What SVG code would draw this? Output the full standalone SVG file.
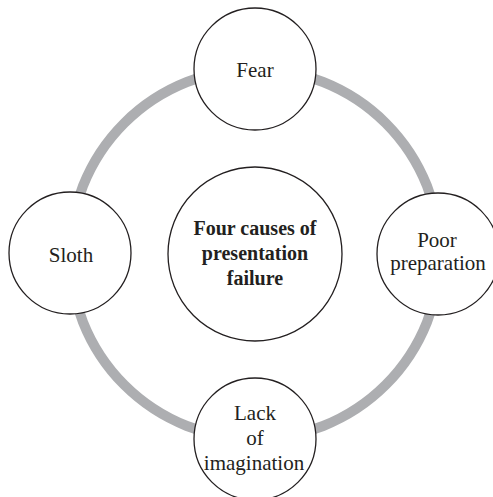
<svg xmlns="http://www.w3.org/2000/svg" width="493" height="497" viewBox="0 0 493 497">
  <style>
    .ring { fill: none; stroke: #adaeb1; stroke-width: 10; }
    .node { fill: #ffffff; stroke: #231f20; stroke-width: 1.3; }
    .lbl { font-family: "Liberation Serif", "Times New Roman", serif; font-size: 21px; fill: #231f20; text-anchor: middle; }
    .hub { font-family: "Liberation Serif", "Times New Roman", serif; font-size: 20px; font-weight: bold; fill: #231f20; text-anchor: middle; }
  </style>
  <rect width="493" height="497" fill="#ffffff"/>

  <!-- ring linking the four causes -->
  <g id="connectors">
    <circle class="ring" cx="255" cy="254" r="185"/>
  </g>

  <g id="hub">
    <circle class="node" cx="255" cy="254" r="87"/>
    <text class="hub" x="255" y="235">Four causes of</text>
    <text class="hub" x="255" y="260">presentation</text>
    <text class="hub" x="255" y="285">failure</text>
  </g>

  <g id="fear">
    <circle class="node" cx="255" cy="69" r="61"/>
    <text class="lbl" x="255" y="77">Fear</text>
  </g>

  <g id="sloth">
    <circle class="node" cx="70" cy="253" r="61"/>
    <text class="lbl" x="71" y="262">Sloth</text>
  </g>

  <g id="poor-preparation">
    <circle class="node" cx="438" cy="254" r="61"/>
    <text class="lbl" x="437" y="247">Poor</text>
    <text class="lbl" x="438" y="270">preparation</text>
  </g>

  <g id="lack-of-imagination">
    <circle class="node" cx="255" cy="439" r="61"/>
    <text class="lbl" x="255" y="420">Lack</text>
    <text class="lbl" x="255" y="445">of</text>
    <text class="lbl" x="254" y="470">imagination</text>
  </g>
</svg>
